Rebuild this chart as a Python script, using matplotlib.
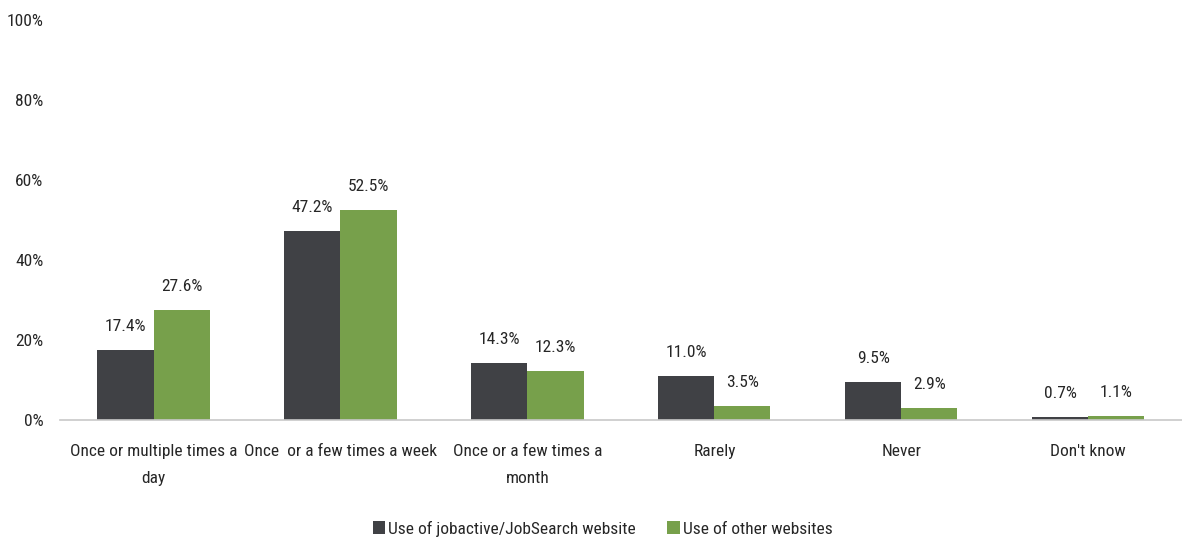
import matplotlib.pyplot as plt
import numpy as np

categories = ['Once or multiple times a\nday', 'Once  or a few times a week',
              'Once or a few times a\nmonth', 'Rarely', 'Never', "Don't know"]
jobactive = [17.4, 47.2, 14.3, 11.0, 9.5, 0.7]
other_sites = [27.6, 52.5, 12.3, 3.5, 2.9, 1.1]
series_names = ['Use of jobactive/JobSearch website', 'Use of other websites']

plt.rcParams['font.family'] = ['Roboto Condensed', 'DejaVu Sans']
plt.rcParams['font.size'] = 12.5

dark = '#404145'
green = '#77a04b'
txt_col = '#262626'

fig = plt.figure(figsize=(11.82, 5.41), dpi=100)
ax = fig.add_axes([0.0508, 0.2237, 0.949, 0.7394])

x = np.arange(len(categories))
w = 0.3
b1 = ax.bar(x - w / 2, jobactive, w, color=dark, label=series_names[0])
b2 = ax.bar(x + w / 2, other_sites, w, color=green, label=series_names[1])

# value labels sit a little above each bar
for bars, vals in ((b1, jobactive), (b2, other_sites)):
    for r, v in zip(bars, vals):
        ax.text(r.get_x() + r.get_width() / 2, v + 4.0, f'{v:.1f}%',
                ha='center', va='bottom', color=txt_col)

ax.set_ylim(0, 100)
ax.set_xlim(-0.5, len(categories) - 0.5)
ax.set_yticks(range(0, 101, 20))
ax.set_yticklabels([f'{t}%' for t in range(0, 101, 20)])
ax.set_xticks(x)
ax.set_xticklabels(categories, linespacing=2.0)
ax.tick_params(axis='both', length=0, colors=txt_col)
ax.tick_params(axis='y', pad=12)
ax.tick_params(axis='x', pad=17)

for s in ['top', 'right', 'left']:
    ax.spines[s].set_visible(False)
ax.spines['bottom'].set_color('#c8c8c8')
ax.spines['bottom'].set_linewidth(1.2)

fig.legend(loc='center', bbox_to_anchor=(0.51, 0.023), ncol=2, frameon=False,
           handlelength=0.7, handleheight=0.7, handletextpad=0.2,
           columnspacing=1.8, labelcolor=txt_col)

fig.savefig('out.png', dpi=100)
